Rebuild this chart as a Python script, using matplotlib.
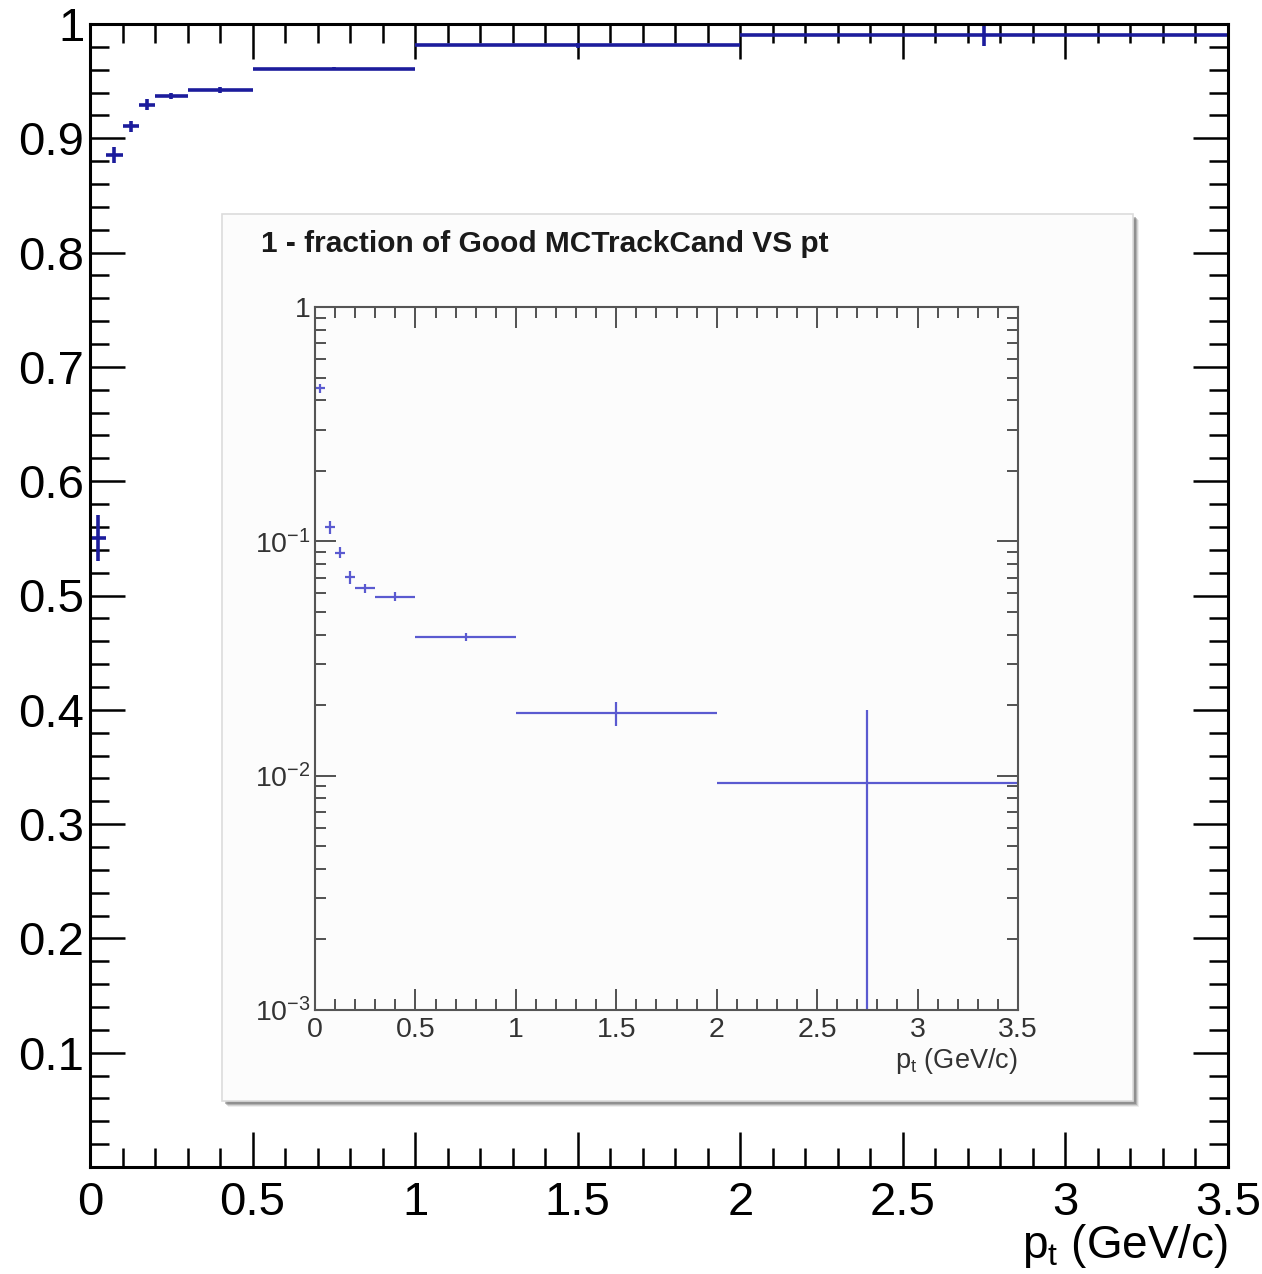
import matplotlib
matplotlib.use("Agg")
import matplotlib.pyplot as plt
import matplotlib.patches as patches
from matplotlib.ticker import MultipleLocator, FixedLocator, NullFormatter
import numpy as np

plt.rcParams['font.family'] = ['Liberation Sans', 'DejaVu Sans']
plt.rcParams['mathtext.fontset'] = 'custom'
plt.rcParams['mathtext.rm'] = 'Liberation Sans'
plt.rcParams['mathtext.it'] = 'Liberation Sans'
plt.rcParams['mathtext.bf'] = 'Liberation Sans:bold'

# ---- data: bins in pt (GeV/c) ----
bin_lo = [0.0, 0.05, 0.10, 0.15, 0.20, 0.30, 0.50, 1.00, 2.00]
bin_hi = [0.05, 0.10, 0.15, 0.20, 0.30, 0.50, 1.00, 2.00, 3.50]
# 1 - fraction of good MC track candidates (inefficiency)
ineff = [0.450, 0.115, 0.0895, 0.0705, 0.0630, 0.0580, 0.0390, 0.0185, 0.0093]
ineff_err = [0.020, 0.007, 0.005, 0.0045, 0.003, 0.0025, 0.0015, 0.0022, 0.0098]

x_ticks = [0, 0.5, 1, 1.5, 2, 2.5, 3, 3.5]
x_ticklabels = ['0', '0.5', '1', '1.5', '2', '2.5', '3', '3.5']
y_ticks = [0.1, 0.2, 0.3, 0.4, 0.5, 0.6, 0.7, 0.8, 0.9, 1.0]
y_ticklabels = ['0.1', '0.2', '0.3', '0.4', '0.5', '0.6', '0.7', '0.8', '0.9', '1']
log_ticks = [1e-3, 1e-2, 1e-1, 1]
log_ticklabels = [r'$10^{-3}$', r'$10^{-2}$', r'$10^{-1}$', '1']
inset_title = '1 - fraction of Good MCTrackCand VS pt'
x_label = r'p$_{\mathregular{t}}$ (GeV/c)'

lo = np.array(bin_lo); hi = np.array(bin_hi)
xc = (lo + hi) / 2
xw = (hi - lo) / 2
ie = np.array(ineff); er = np.array(ineff_err)
frac = 1 - ie

W, H = 1262, 1274
fig = plt.figure(figsize=(W / 100, H / 100), dpi=100)
fig.patch.set_facecolor('white')

def fx(px):
    return px / W

def fy(py):
    return 1 - py / H

# ---- main axes ----
ax = fig.add_axes([fx(90), fy(1167), fx(1228) - fx(90), fy(24) - fy(1167)])
ax.set_zorder(0)
ax.errorbar(xc, frac, xerr=xw, yerr=er, fmt='none', ecolor='#1c1c9c',
            elinewidth=2.6, capsize=0)
ax.set_xlim(0, 3.5)
ax.set_ylim(0, 1)
ax.set_xticks(x_ticks)
ax.set_xticklabels(x_ticklabels)
ax.set_yticks(y_ticks)
ax.set_yticklabels(y_ticklabels)
ax.xaxis.set_minor_locator(MultipleLocator(0.1))
ax.yaxis.set_minor_locator(MultipleLocator(0.02))
ax.tick_params(which='both', direction='in', top=True, right=True,
               color='black', width=1.8, labelsize=34)
ax.tick_params(which='major', length=25)
ax.tick_params(which='minor', length=13.5)
ax.tick_params(axis='x', which='major', pad=10)
ax.tick_params(axis='y', which='major', pad=4)
for s in ax.spines.values():
    s.set_linewidth(2.2)
ax.text(1.0, -0.069, x_label, transform=ax.transAxes, ha='right', va='center',
        fontsize=33)

# ---- inset panel ----
px0, py0, px1, py1 = 222, 214, 1133, 1101
for off, a in [(6, 0.10), (5, 0.18), (4, 0.30), (3, 0.40)]:
    sh = patches.Rectangle((fx(px0 + off), fy(py1 + off)), fx(px1) - fx(px0),
                           fy(py0) - fy(py1), transform=fig.transFigure,
                           facecolor='#606060', edgecolor='none', alpha=a, zorder=1)
    fig.add_artist(sh)
panel = patches.Rectangle((fx(px0), fy(py1)), fx(px1) - fx(px0), fy(py0) - fy(py1),
                          transform=fig.transFigure, facecolor='#fcfcfc',
                          edgecolor='#dcdcdc', linewidth=1.2, zorder=1.5)
fig.add_artist(panel)
fig.text(fx(261), fy(244), inset_title, ha='left', va='center', fontsize=21.5,
         fontweight='bold', color='#1a1a1a', zorder=3)

# ---- inset axes ----
axi = fig.add_axes([fx(315), fy(1010), fx(1018) - fx(315), fy(307) - fy(1010)])
axi.set_zorder(2)
axi.set_facecolor('#fcfcfc')
lower = np.minimum(er, ie - 1e-5)
axi.errorbar(xc, ie, xerr=xw, yerr=[lower, er], fmt='none', ecolor='#5a5ad0',
             elinewidth=1.6, capsize=0)
axi.set_yscale('log')
axi.set_xlim(0, 3.5)
axi.set_ylim(1e-3, 1)
axi.set_xticks(x_ticks)
axi.set_xticklabels(x_ticklabels)
axi.xaxis.set_minor_locator(MultipleLocator(0.1))
axi.yaxis.set_major_locator(FixedLocator(log_ticks))
axi.set_yticklabels(log_ticklabels)
minors = [m * 10.0 ** d for d in (-3, -2, -1) for m in range(2, 10)]
axi.yaxis.set_minor_locator(FixedLocator(minors))
axi.yaxis.set_minor_formatter(NullFormatter())
axi.tick_params(which='both', direction='in', top=True, right=True,
                color='#444444', width=1.3, labelsize=20.5, labelcolor='#333333')
axi.tick_params(which='major', length=15)
axi.tick_params(which='minor', length=8)
axi.tick_params(axis='x', which='major', pad=5)
axi.tick_params(axis='y', which='major', pad=3)
for s in axi.spines.values():
    s.set_linewidth(1.5)
    s.set_color('#555555')
axi.text(1.0, -0.072, x_label, transform=axi.transAxes, ha='right', va='center',
         fontsize=19.5, color='#333333')

fig.savefig('out.png', dpi=100, facecolor='white')
